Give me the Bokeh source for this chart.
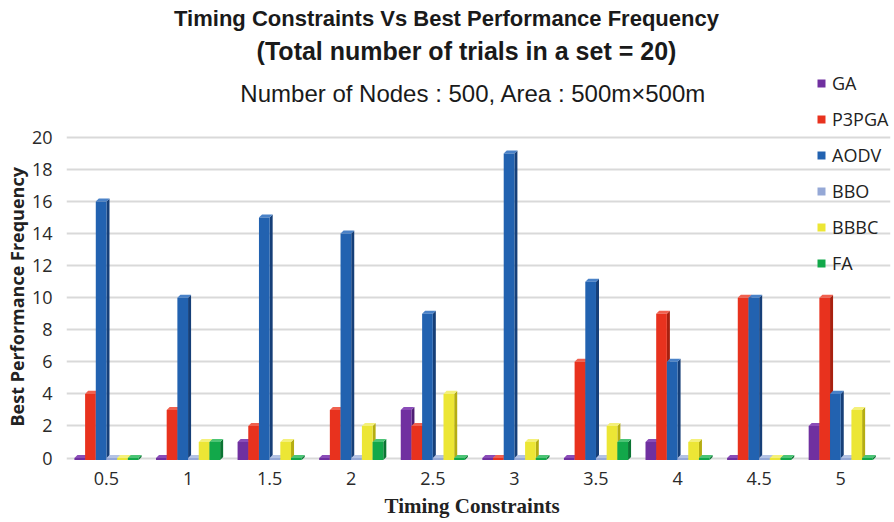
from bokeh.plotting import figure
from bokeh.models import Range1d, FixedTicker, Legend, LegendItem, Label, ColumnDataSource, Title
from bokeh.embed import file_html
from bokeh.resources import INLINE

# ---------------- data ----------------
categories = ["0.5", "1", "1.5", "2", "2.5", "3", "3.5", "4", "4.5", "5"]
series_names = ["GA", "P3PGA", "AODV", "BBO", "BBBC", "FA"]
ga    = [0, 0, 1, 0, 3, 0, 0, 1, 0, 2]
p3pga = [4, 3, 2, 3, 2, 0, 6, 9, 10, 10]
aodv  = [16, 10, 15, 14, 9, 19, 11, 6, 10, 4]
bbo   = [0, 0, 0, 0, 0, 0, 0, 0, 0, 0]
bbbc  = [0, 1, 1, 2, 4, 1, 2, 1, 0, 3]
fa    = [0, 1, 0, 1, 0, 0, 1, 0, 0, 0]
y_ticks = [0, 2, 4, 6, 8, 10, 12, 14, 16, 18, 20]

series_values = [ga, p3pga, aodv, bbo, bbbc, fa]

face_colors = ["#7030a0", "#e8321e", "#2262b0", "#95a8d6", "#ece635", "#12a84a"]
side_colors = ["#4f1f75", "#a8200f", "#163f78", "#6f82b0", "#b5ad12", "#0b7433"]
top_colors  = ["#8a4cb8", "#f0614f", "#4a82c8", "#b3c2e4", "#f4f07a", "#4cc476"]

# ---------------- figure ----------------
W, H = 894, 522
p = figure(width=W, height=H, output_backend="svg", toolbar_location=None,
           x_range=Range1d(-0.49, 9.61), y_range=Range1d(-0.217, 28.54),
           min_border_left=66, min_border_right=4, min_border_top=0,
           min_border_bottom=59, tools="")
p.title = None
p.outline_line_color = None
p.background_fill_color = "white"
p.border_fill_color = "white"

p.xgrid.grid_line_color = None
p.ygrid.grid_line_color = "#d9d9d9"
p.ygrid.grid_line_width = 2

p.yaxis.ticker = FixedTicker(ticks=y_ticks)
p.xaxis.ticker = FixedTicker(ticks=list(range(len(categories))))
p.xaxis.major_label_overrides = {i: c for i, c in enumerate(categories)}
for ax in (p.xaxis, p.yaxis):
    ax.axis_line_color = None
    ax.major_tick_line_color = None
    ax.minor_tick_line_color = None
    ax.major_label_text_font = "Open Sans"
    ax.major_label_text_font_size = "18px"
    ax.major_label_text_color = "#2a2a2a"
p.yaxis.major_label_standoff = 8
p.xaxis.major_label_standoff = 4

# x-axis title as a below title
p.add_layout(Title(text="Timing Constraints", align="left", offset=318,
                   text_font="Liberation Serif", text_font_size="21px", text_font_style="bold",
                   text_color="#222222", standoff=9), "below")

# y-axis title as a left-side title
p.add_layout(Title(text="Best Performance Frequency", align="left", offset=35,
                   text_font="Open Sans", text_font_size="18px", text_font_style="bold",
                   text_color="#222222", standoff=0), "left")

# ---------------- 3D-looking bars ----------------
bw = 0.131
dx = 0.037
dy = 0.19
floor = -0.12
legend_items = []
for j, (name, vals) in enumerate(zip(series_names, series_values)):
    lefts = [i - 3 * bw + j * bw for i in range(len(vals))]
    rights = [l + bw for l in lefts]
    xs_side, ys_side, xs_top, ys_top = [], [], [], []
    for l, r, v in zip(lefts, rights, vals):
        xs_side.append([r, r + dx, r + dx, r])
        ys_side.append([floor, floor + dy, v + dy, v])
        xs_top.append([l, l + dx, r + dx, r])
        ys_top.append([v, v + dy, v + dy, v])
    p.patches(xs_side, ys_side, fill_color=side_colors[j], line_color=None)
    p.patches(xs_top, ys_top, fill_color=top_colors[j], line_color=None)
    src = ColumnDataSource(dict(left=lefts, right=rights, top=vals,
                                bottom=[floor] * len(vals)))
    r = p.quad(left="left", right="right", top="top", bottom="bottom",
               source=src, fill_color=face_colors[j], line_color=None)
    legend_items.append(LegendItem(label=name, renderers=[r]))

legend = Legend(items=legend_items, location=(750, 186),
                label_text_font="Open Sans", label_text_font_size="18px",
                label_text_color="#222222", glyph_width=10, glyph_height=10,
                label_standoff=6, label_height=25, spacing=11, padding=0,
                margin=0, background_fill_alpha=0, border_line_color=None)
p.add_layout(legend, "center")

# ---------------- titles ----------------
FL, FB = 66, 463  # frame left / bottom in canvas pixels

def screen_label(text, cx, cy, size, style="normal", font="Liberation Sans"):
    return Label(x=cx - FL, y=FB - cy, x_units="screen", y_units="screen",
                 text=text, text_font=font, text_font_size=size,
                 text_font_style=style, text_color="#1a1a1a",
                 text_align="center", text_baseline="middle")

p.add_layout(screen_label("Timing Constraints Vs Best Performance Frequency", 446, 20, "22px", "bold"))
p.add_layout(screen_label("(Total number of trials in a set = 20)", 466, 52, "25px", "bold"))
p.add_layout(screen_label("Number of Nodes : 500, Area : 500m\u00d7500m", 473, 95, "24px", "normal"))

open("out.html", "w").write(file_html(p, INLINE))
